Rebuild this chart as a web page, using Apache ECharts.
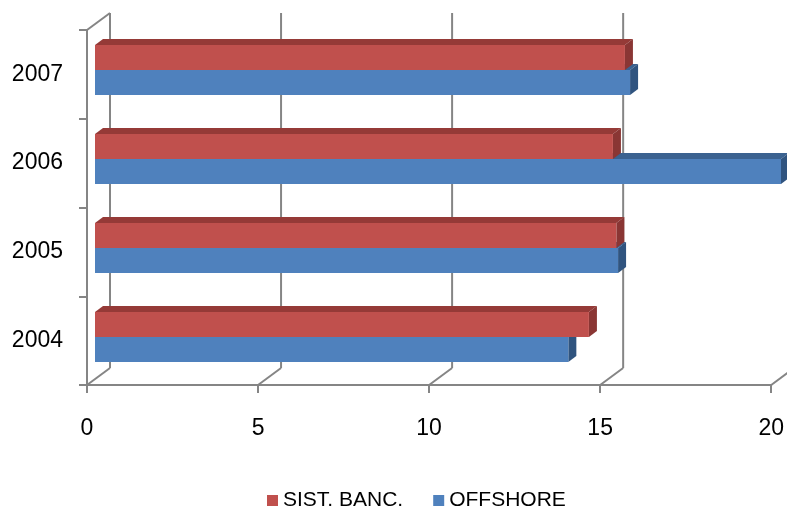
<!DOCTYPE html>
<html>
<head>
<meta charset="utf-8">
<script src="https://cdn.jsdelivr.net/npm/echarts@6/dist/echarts.min.js"></script>
<style>
  html, body { margin: 0; padding: 0; background: #fff; }
  #chart { width: 787px; height: 508px; }
</style>
</head>
<body>
<div id="chart"></div>
<script>
// data
var years = ['2004', '2005', '2006', '2007']
var sistBanc = [14.4, 15.2, 15.1, 15.45]
var offshore = [13.8, 15.25, 20.0, 15.6]
var valueTicks = [0, 5, 10, 15, 20]

var FONT = 'Liberation Sans'
var GRID_GRAY = '#858585'
// depth of a bar, and depth of the floor (front -> back wall)
var BAR_DX = 8, BAR_DY = -6
var FLOOR_DX = 23, FLOOR_DY = -17

var chart = echarts.init(document.getElementById('chart'))

function barRenderer(upper, front, top, side) {
    return function (params, api) {
        var cat = api.value(1)
        var base = api.coord([0, cat])
        var end = api.coord([api.value(0), cat])
        var band = api.size([0, 1])[1]
        var h = band * 0.28
        var y0 = upper ? base[1] - h : base[1]
        var x0 = base[0], x1 = end[0]
        return {
            type: 'group',
            children: [
                {
                    type: 'polygon',
                    shape: { points: [[x0, y0], [x0 + BAR_DX, y0 + BAR_DY], [x1 + BAR_DX, y0 + BAR_DY], [x1, y0]] },
                    style: { fill: top }
                },
                {
                    type: 'polygon',
                    shape: { points: [[x1, y0], [x1 + BAR_DX, y0 + BAR_DY], [x1 + BAR_DX, y0 + h + BAR_DY], [x1, y0 + h]] },
                    style: { fill: side }
                },
                {
                    type: 'rect',
                    shape: { x: x0, y: y0, width: x1 - x0, height: h },
                    style: { fill: front }
                }
            ]
        }
    }
}

// floor diagonals, back wall gridlines and the top edge of the left wall
function frameRenderer(params, api) {
    var v = api.value(0)
    var p = api.coord([v, 0])
    var band = api.size([0, 1])[1]
    var yb = p[1] + band / 2
    var t = api.coord([v, years.length - 1])
    var yt = t[1] - band / 2
    var line = { stroke: GRID_GRAY, lineWidth: 2 }
    var children = [
        {
            type: 'line',
            shape: { x1: p[0], y1: yb, x2: p[0] + FLOOR_DX, y2: yb + FLOOR_DY },
            style: line
        },
        {
            type: 'line',
            shape: { x1: p[0] + FLOOR_DX, y1: yb + FLOOR_DY, x2: t[0] + FLOOR_DX, y2: yt + FLOOR_DY },
            style: line
        }
    ]
    if (v === 0) {
        children.push({
            type: 'line',
            shape: { x1: t[0], y1: yt, x2: t[0] + FLOOR_DX, y2: yt + FLOOR_DY },
            style: line
        })
    }
    return { type: 'group', children: children }
}

var option = {
    animation: false,
    backgroundColor: '#fff',
    textStyle: { fontFamily: FONT },
    legend: {
        data: [
            { name: 'SIST. BANC.', itemStyle: { color: '#C0504D' } },
            { name: 'OFFSHORE', itemStyle: { color: '#4F81BD' } }
        ],
        left: 262,
        top: 485,
        icon: 'rect',
        itemWidth: 11,
        itemHeight: 11,
        itemGap: 30,
        textStyle: { fontFamily: FONT, fontSize: 21, color: '#000' }
    },
    grid: [
        // bar plane
        { left: 95, right: 6, top: 25.5, bottom: 126.5 },
        // front frame (axes + labels)
        { left: 87, right: 14, top: 30, bottom: 123 }
    ],
    xAxis: [
        { gridIndex: 0, type: 'value', min: 0, max: 20, show: false },
        {
            gridIndex: 1, type: 'value', min: 0, max: 20, interval: 5,
            axisLine: { show: true, lineStyle: { color: GRID_GRAY, width: 2 } },
            axisTick: { show: true, length: 8, lineStyle: { color: GRID_GRAY, width: 2 } },
            axisLabel: { fontFamily: FONT, fontSize: 23, color: '#000', margin: 32 },
            splitLine: { show: false }
        }
    ],
    yAxis: [
        { gridIndex: 0, type: 'category', data: years, show: false },
        {
            gridIndex: 1, type: 'category', data: years,
            axisLine: { show: true, lineStyle: { color: GRID_GRAY, width: 2 } },
            axisTick: { show: true, length: 8, lineStyle: { color: GRID_GRAY, width: 2 } },
            axisLabel: { fontFamily: FONT, fontSize: 23, color: '#000', margin: 24 }
        }
    ],
    series: [
        {
            name: 'frame', type: 'custom', xAxisIndex: 1, yAxisIndex: 1,
            data: valueTicks.map(function (t) { return [t, 0] }),
            renderItem: frameRenderer, z: 1, silent: true
        },
        {
            name: 'SIST. BANC.', type: 'custom', xAxisIndex: 0, yAxisIndex: 0,
            data: sistBanc.map(function (v, i) { return [v, i] }),
            encode: { x: 0, y: 1 },
            itemStyle: { color: '#C0504D' },
            renderItem: barRenderer(true, '#C0504D', '#953A37', '#8A3634'),
            z: 4
        },
        {
            name: 'OFFSHORE', type: 'custom', xAxisIndex: 0, yAxisIndex: 0,
            data: offshore.map(function (v, i) { return [v, i] }),
            encode: { x: 0, y: 1 },
            itemStyle: { color: '#4F81BD' },
            renderItem: barRenderer(false, '#4F81BD', '#3B6290', '#30547F'),
            z: 3
        }
    ]
}

chart.setOption(option)
</script>
</body>
</html>
